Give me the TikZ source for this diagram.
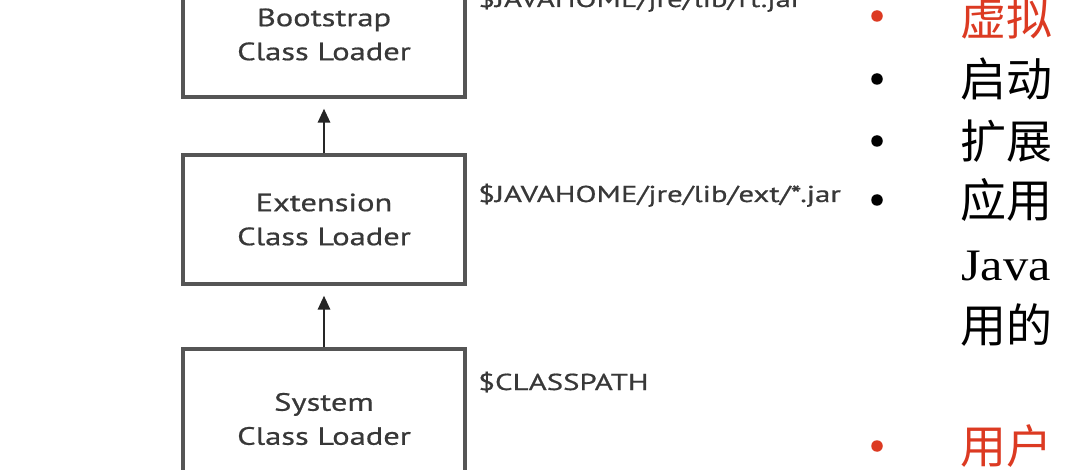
\documentclass[tikz,border=0pt]{standalone}
\usepackage{fontspec}
\newfontfamily\boxfont[FakeStretch=1.3,FakeBold=0.6]{PT Sans}
\newfontfamily\labfont[FakeStretch=1.34,FakeBold=0.6]{PT Sans}
\newfontfamily\cjk{Noto Sans CJK SC}
\newfontfamily\serifjava[FakeStretch=1.12]{Liberation Serif}
\usetikzlibrary{arrows.meta}
\definecolor{boxgray}{HTML}{555555}
\definecolor{txtgray}{HTML}{383838}
\definecolor{bulred}{HTML}{DC3A22}
\tikzset{
  loader/.style={draw=boxgray, line width=3.2pt, minimum width=282pt, align=center,
     text=txtgray, font=\boxfont\fontsize{25}{34}\selectfont, inner sep=0pt},
  path label/.style={anchor=base west, text=txtgray, font=\labfont\fontsize{23}{26}\selectfont, inner sep=0pt},
  up arrow/.style={draw=black!85, line width=2.8pt, -{Triangle[length=14pt,width=12pt]}},
  bul/.style={circle, inner sep=0pt, minimum size=11.5pt},
  cn/.style={anchor=base west, inner sep=0pt, font=\cjk\fontsize{46}{50}\selectfont},
}
\begin{document}
\begin{tikzpicture}[x=1pt,y=-1pt]
\useasboundingbox (0,0) rectangle (1068,470);
\clip (0,0) rectangle (1068,470);
\fill[white] (0,0) rectangle (1068,470);
% boxes
\node[loader, minimum height=125pt] (boot) at (324,34.5) {Bootstrap\\Class Loader};
\node[loader, minimum height=129pt] (ext) at (324,219.5) {Extension\\Class Loader};
\node[loader, minimum height=140pt] (sys) at (324,419) {System\\Class Loader};
% arrows
\draw[up arrow, shorten >=10pt] (ext.north) -- (boot.south);
\draw[up arrow, shorten >=10pt] (sys.north) -- (ext.south);
% path labels
\node[path label] (rt) at (478,7) {\$JAVAHOME/jre/lib/rt.jar};
\node[path label] (extp) at (478,202) {\$JAVAHOME/jre/lib/ext/*.jar};
\node[path label] (cp) at (478,390) {\$CLASSPATH};
% bullets
\node[bul, fill=bulred] (b1) at (877,16) {};
\node[bul, fill=black] (b2) at (877,79) {};
\node[bul, fill=black] (b3) at (877,141) {};
\node[bul, fill=black] (b4) at (877,200) {};
\node[bul, fill=bulred] (b5) at (877,446) {};
% chinese text
\node[cn, text=bulred] (t1) at (960,35.5) {虚拟};
\node[cn] (t2) at (960,96.5) {启动};
\node[cn] (t3) at (960,158.5) {扩展};
\node[cn] (t4) at (960,217.5) {应用};
\node[anchor=base west, inner sep=0pt, font=\serifjava\fontsize{45}{50}\selectfont] (t5) at (961,280) {Java};
\node[cn] (t6) at (960,342.5) {用的};
\node[cn, text=bulred] (t7) at (960,463.5) {用户};
\end{tikzpicture}
\end{document}
